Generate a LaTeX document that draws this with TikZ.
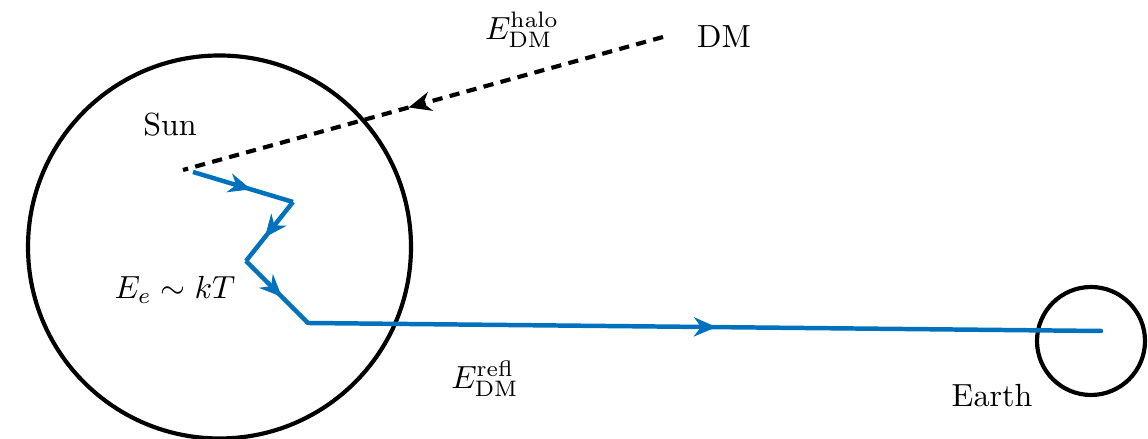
\documentclass[tikz,border=0pt]{standalone}
\usetikzlibrary{arrows.meta,decorations.markings}
\definecolor{pathblue}{RGB}{0,114,189}
\begin{document}
\begin{tikzpicture}[x=0.3125pt,y=-0.3125pt,
  body/.style={draw=black,line width=1.3pt,circle,inner sep=0pt},
  lbl/.style={inner sep=0pt,font=\normalsize},
  midtip/.style={postaction={decorate},decoration={markings,
    mark=at position #1 with {\arrow{Stealth[length=7pt,width=6pt,inset=2.2pt]}}}},
  walk/.style={draw=pathblue,line width=1.4pt,midtip=#1},
  halo/.style={draw=black,line width=1.3pt,dash pattern=on 3.2pt off 2.3pt,midtip=#1}]
\useasboundingbox (0,0) rectangle (1148,439);
% bodies
\node[body,minimum size=383*0.3125pt] (sun) at (219.5,247) {};
\node[body,minimum size=108*0.3125pt] (earth) at (1091,341) {};
% path points
\coordinate (dm) at (663,37);
\coordinate (hit) at (183,170);
\coordinate (p0) at (193,172);
\coordinate (p1) at (293,202);
\coordinate (p2) at (246,261);
\coordinate (p3) at (308,323);
\coordinate (p4) at (1101,331);
% incoming halo dark matter
\draw[halo=0.53] (dm) -- (hit);
% random walk inside the Sun and reflected flux
\draw[walk=0.58] (p0) -- (p1);
\draw[walk=0.6] (p1) -- (p2);
\draw[walk=0.58] (p2) -- (p3);
\draw[walk=0.515,line cap=round] (p3) -- (p4);
% labels
\node[lbl] (sunlbl) at (170,125) {Sun};
\node[lbl] (dmlbl) at (724,37) {DM};
\node[lbl] (halolbl) at (522,30) {$E_{\mathrm{DM}}^{\mathrm{halo}}$};
\node[lbl] (therm) at (175,290) {$E_e\sim kT$};
\node[lbl] (refl) at (485,379) {$E_{\mathrm{DM}}^{\mathrm{refl}}$};
\node[lbl] (earthlbl) at (992,396) {Earth};
\end{tikzpicture}
\end{document}
